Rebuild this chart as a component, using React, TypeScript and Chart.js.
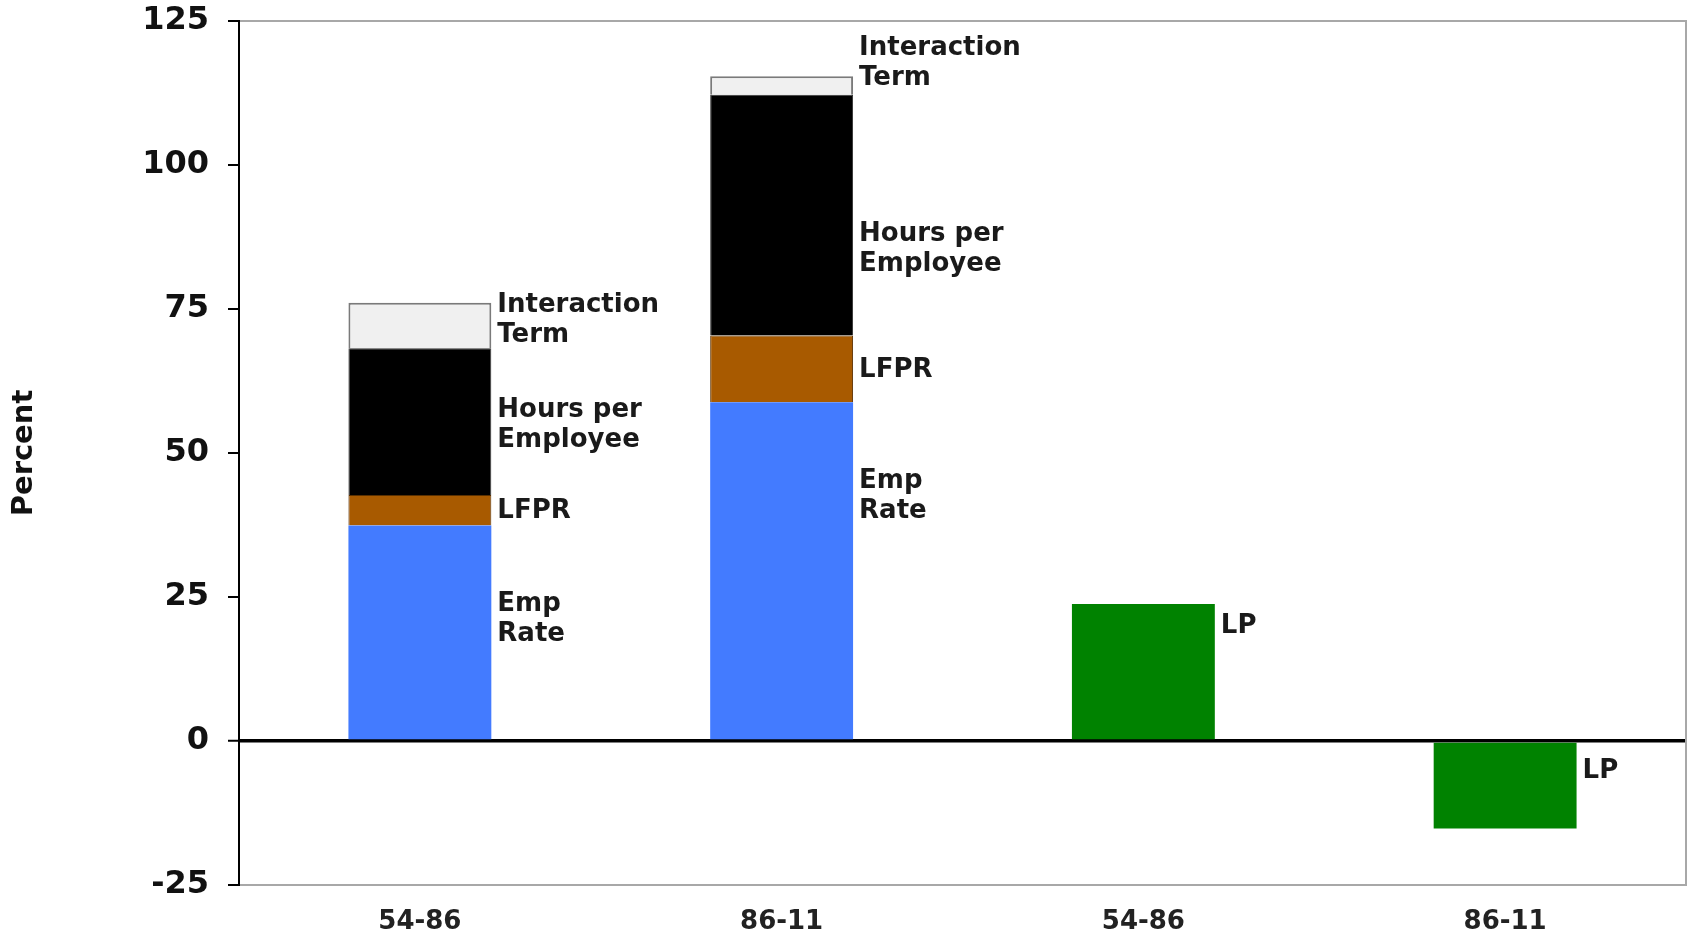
import React, { useEffect, useRef } from "react";
import { Chart, registerables } from "chart.js";

Chart.register(...registerables);

const categories = ["54-86", "86-11", "54-86", "86-11"];

const empRate = [37.4, 58.8, null, null];
const lfpr = [5.3, 11.6, null, null];
const hoursPerEmployee = [25.5, 41.8, null, null];
const interactionTerm = [7.9, 3.2, null, null];
const laborProductivity = [null, null, 23.8, -15.2];

const yTickMin = -25;
const yTickMax = 125;
const yTickStep = 25;

// Annotation labels beside the bars: dataset index, category index, text, vertical anchor (data units)
const noteDataset = [3, 2, 1, 0, 3, 2, 1, 0, 4, 4];
const noteCategory = [0, 0, 0, 0, 1, 1, 1, 1, 2, 3];
const noteText = [
  "Interaction\nTerm",
  "Hours per\nEmployee",
  "LFPR",
  "Emp\nRate",
  "Interaction\nTerm",
  "Hours per\nEmployee",
  "LFPR",
  "Emp\nRate",
  "LP",
  "LP",
];
const noteAt = [73.1, 54.8, 39.9, 21.2, 117.6, 85.3, 64.4, 42.5, 20.0, -5.3];

const FONT = "'DejaVu Sans', Verdana, sans-serif";

const notesPlugin = {
  id: "barNotes",
  afterDatasetsDraw(chart: any) {
    const ctx = chart.ctx;
    const yScale = chart.scales.y;
    ctx.save();
    ctx.font = `bold 26px ${FONT}`;
    ctx.fillStyle = "#1a1a1a";
    ctx.textAlign = "left";
    ctx.textBaseline = "middle";
    const lineH = 30;
    for (let i = 0; i < noteText.length; i++) {
      const meta = chart.getDatasetMeta(noteDataset[i]);
      const el = meta.data[noteCategory[i]];
      if (!el) continue;
      const x = el.x + el.width / 2 + 6;
      const yc = yScale.getPixelForValue(noteAt[i]);
      const lines = noteText[i].split("\n");
      const y0 = yc - ((lines.length - 1) * lineH) / 2;
      lines.forEach((ln, k) => ctx.fillText(ln, x, y0 + k * lineH));
    }
    ctx.restore();
  },
};

export default function App() {
  const ref = useRef<HTMLCanvasElement | null>(null);

  useEffect(() => {
    if (!ref.current) return;
    const common = {
      barPercentage: 0.395,
      categoryPercentage: 1,
    };
    const chart = new Chart(ref.current, {
      type: "bar",
      data: {
        labels: categories,
        datasets: [
          {
            label: "Emp Rate",
            data: empRate,
            backgroundColor: "#437BFF",
            borderWidth: 0,
            ...common,
          },
          {
            label: "LFPR",
            data: lfpr,
            backgroundColor: "#A85A00",
            borderColor: "#5a3000",
            borderWidth: 1,
            ...common,
          },
          {
            label: "Hours per Employee",
            data: hoursPerEmployee,
            backgroundColor: "#000000",
            borderColor: "#333333",
            borderWidth: 1,
            ...common,
          },
          {
            label: "Interaction Term",
            data: interactionTerm,
            backgroundColor: "#F0F0F0",
            borderColor: "#7a7a7a",
            borderWidth: 2,
            ...common,
          },
          {
            label: "LP",
            data: laborProductivity,
            backgroundColor: "#008200",
            borderWidth: 0,
            ...common,
          },
        ] as any,
      },
      options: {
        animation: false,
        responsive: true,
        maintainAspectRatio: false,
        layout: { padding: { top: 0, right: 1, bottom: 0, left: 0 } },
        plugins: {
          legend: { display: false },
          tooltip: { enabled: false },
        },
        scales: {
          x: {
            stacked: true,
            grid: { display: false },
            border: { display: false },
            ticks: {
              color: "#222",
              font: { family: FONT, size: 26, weight: "bold" },
              padding: 14,
              maxRotation: 0,
            },
            afterFit(scale: any) {
              scale.height = 44;
            },
          },
          y: {
            stacked: true,
            min: yTickMin,
            max: yTickMax,
            ticks: {
              stepSize: yTickStep,
              color: "#111",
              font: { family: FONT, size: 32, weight: "bold" },
              padding: 19,
            },
            grid: {
              drawOnChartArea: true,
              tickLength: 11,
              tickColor: "#000",
              tickWidth: 2,
              color: (c: any) => {
                const v = c.tick ? c.tick.value : null;
                if (v === 0) return "#000";
                if (v === yTickMin || v === yTickMax) return "#a8a8a8";
                return "rgba(0,0,0,0)";
              },
              lineWidth: (c: any) => {
                const v = c.tick ? c.tick.value : null;
                return v === 0 ? 3.5 : 2;
              },
            },
            border: { display: true, color: "#000", width: 2 },
            title: {
              display: true,
              text: "Percent",
              color: "#111",
              font: { family: FONT, size: 29, weight: "bold" },
              padding: { top: 7, bottom: 8 },
            },
            afterFit(scale: any) {
              scale.width = 239;
              scale.paddingTop = 21;
              scale.paddingBottom = 21;
            },
          },
          y2: {
            position: "right",
            display: true,
            ticks: { display: false },
            grid: { display: false },
            border: { display: true, color: "#a8a8a8", width: 2 },
            afterFit(scale: any) {
              scale.width = 0;
              scale.paddingTop = 0;
              scale.paddingBottom = 0;
            },
          },
        },
      } as any,
      plugins: [notesPlugin],
    });
    return () => chart.destroy();
  }, []);

  return (
    <div
      style={{
        position: "fixed",
        left: 0,
        top: 0,
        width: 1687,
        height: 929,
        background: "#fff",
      }}
    >
      <canvas ref={ref} />
    </div>
  );
}
